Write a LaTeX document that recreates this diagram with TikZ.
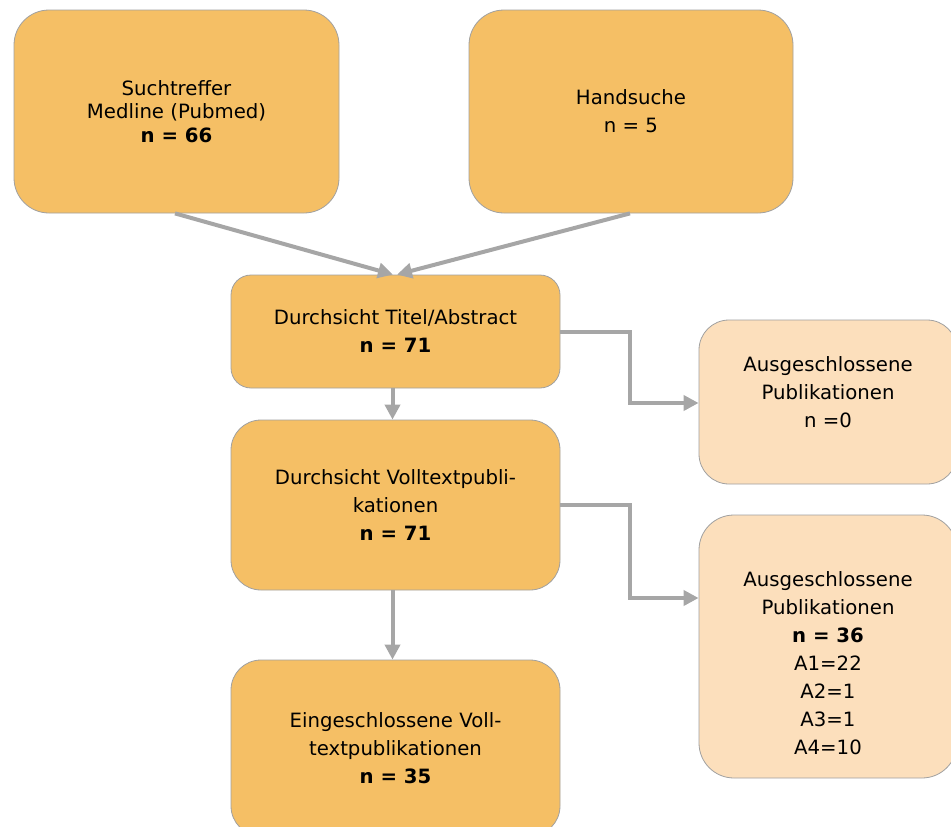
\documentclass[tikz,border=0pt]{standalone}
\usepackage{fontspec}
\setmainfont{DejaVu Sans}
\usetikzlibrary{arrows.meta}
\definecolor{boxorange}{HTML}{F5BF65}
\definecolor{boxlight}{HTML}{FCDFBC}
\definecolor{edgegray}{HTML}{A0A0A0}
\definecolor{arrowgray}{HTML}{A6A6A6}
\begin{document}
\begin{tikzpicture}[x=1pt,y=-1pt,
  box/.style={draw=edgegray, line width=0.8pt, fill=boxorange, align=center, inner sep=0pt},
  lightbox/.style={box, fill=boxlight},
  txt/.style={align=center, inner sep=0pt},
  conn/.style={draw=arrowgray, line width=4pt, -{Triangle[length=15pt,width=15pt]}},
  f23/.style={font=\fontsize{19.7}{23.5}\selectfont},
  f28/.style={font=\fontsize{19.7}{28}\selectfont}]
\useasboundingbox (0,0) rectangle (951,827);
\clip (0,0) rectangle (951,827);
% boxes
\node[box, f23, rounded corners=35pt, minimum width=325pt, minimum height=203pt] (A) at (176.5,111.5)
  {Suchtreffer\\Medline (Pubmed)\\\textbf{n = 66}};
\node[box, f28, rounded corners=35pt, minimum width=324pt, minimum height=203pt] (B) at (631,111.5)
  {Handsuche\\n = 5};
\node[box, f28, rounded corners=20pt, minimum width=329pt, minimum height=113pt] (C) at (395.5,331.5)
  {Durchsicht Titel/Abstract\\\textbf{n = 71}};
\node[box, f28, rounded corners=30pt, minimum width=329pt, minimum height=170pt] (D) at (395.5,505)
  {Durchsicht Volltextpubli-\\kationen\\\textbf{n = 71}};
\node[box, f28, rounded corners=30pt, minimum width=329pt, minimum height=176pt] (E) at (395.5,748)
  {Eingeschlossene Voll-\\textpublikationen\\\textbf{n = 35}};
\node[lightbox, rounded corners=30pt, minimum width=258pt, minimum height=164pt] (F) at (828,402) {};
\node[txt, f28] (Ft) at (828,392) {Ausgeschlossene\\Publikationen\\n =0};
\node[lightbox, rounded corners=35pt, minimum width=258pt, minimum height=263pt] (G) at (828,646.5) {};
\node[txt, f28] (Gt) at (828,663) {Ausgeschlossene\\Publikationen\\\textbf{n = 36}\\A1=22\\A2=1\\A3=1\\A4=10};
% connector helper coordinates
\coordinate (a1) at ([xshift=-1.5pt]A.south);
\coordinate (b1) at ([xshift=-1pt]B.south);
\coordinate (c1) at ([xshift=-2.5pt]C.north);
\coordinate (c2) at ([xshift=1.5pt]C.north);
\coordinate (cr1) at (630,331.5);
\coordinate (cr2) at (630,403);
\coordinate (dr1) at (630,505);
\coordinate (dr2) at (630,598);
% connectors
\draw[conn] (a1) -- (c1);
\draw[conn] (b1) -- (c2);
\draw[conn] (C.east) -- (cr1) -- (cr2) -- (F.west |- cr2);
\draw[conn] ([xshift=-3pt]C.south) -- ([xshift=-3pt]D.north);
\draw[conn] (D.east) -- (dr1) -- (dr2) -- (G.west |- dr2);
\draw[conn] ([xshift=-3pt]D.south) -- ([xshift=-3pt]E.north);
\end{tikzpicture}
\end{document}
